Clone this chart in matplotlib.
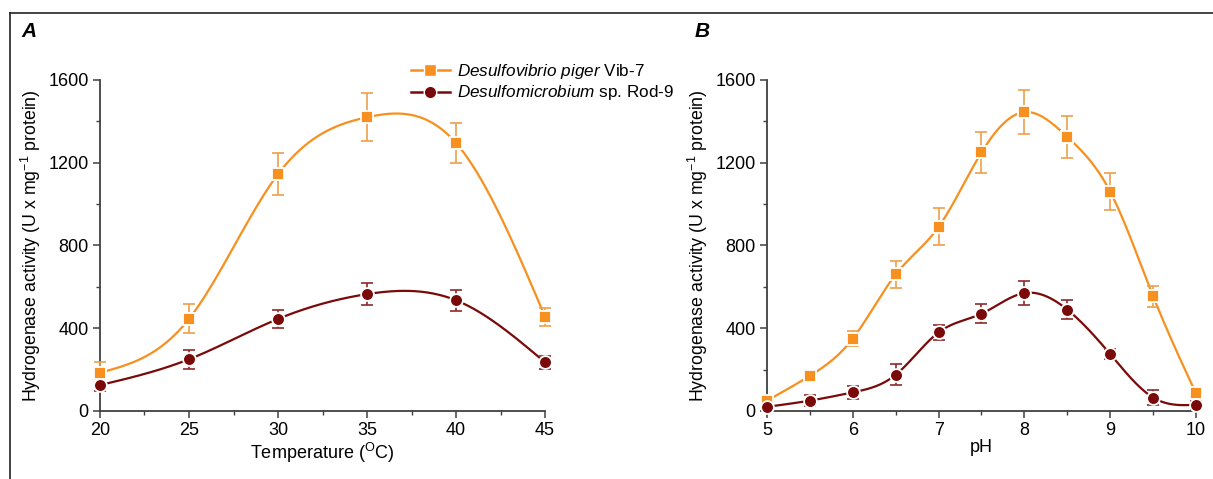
import numpy as np
import matplotlib
matplotlib.use("Agg")
import matplotlib.pyplot as plt
from matplotlib.lines import Line2D
from matplotlib.ticker import MultipleLocator

plt.rcParams['font.family'] = ['Liberation Sans', 'DejaVu Sans']
plt.rcParams['mathtext.fontset'] = 'custom'
plt.rcParams['mathtext.rm'] = 'Liberation Sans'
plt.rcParams['mathtext.it'] = 'Liberation Sans:italic'
plt.rcParams['mathtext.bf'] = 'Liberation Sans:bold'

# panel A: temperature
temp = [20, 25, 30, 35, 40, 45]
vib_t = [185, 445, 1145, 1420, 1295, 455]
vib_t_err = [50, 70, 100, 115, 95, 45]
rod_t = [125, 250, 445, 565, 535, 235]
rod_t_err = [30, 45, 45, 55, 50, 30]

# panel B: pH
ph = [5, 5.5, 6, 6.5, 7, 7.5, 8, 8.5, 9, 9.5, 10]
vib_p = [50, 170, 350, 660, 890, 1250, 1445, 1325, 1060, 555, 85]
vib_p_err = [15, 25, 35, 65, 90, 100, 105, 100, 90, 50, 25]
rod_p = [20, 50, 90, 175, 380, 470, 570, 490, 275, 65, 30]
rod_p_err = [15, 25, 30, 50, 35, 45, 60, 45, 25, 35, 20]

orange = '#F7901E'
orange_bar = '#EDA04A'
red = '#7A0A0A'
red_bar = '#8E2A2A'
spine_col = '#404040'


def natural_spline(x, y, n=300):
    # plain natural cubic spline, only used to draw the smooth line
    x = np.asarray(x, float)
    y = np.asarray(y, float)
    k = len(x)
    h = np.diff(x)
    A = np.zeros((k, k))
    b = np.zeros(k)
    A[0, 0] = 1
    A[-1, -1] = 1
    for i in range(1, k - 1):
        A[i, i - 1] = h[i - 1]
        A[i, i] = 2 * (h[i - 1] + h[i])
        A[i, i + 1] = h[i]
        b[i] = 3 * ((y[i + 1] - y[i]) / h[i] - (y[i] - y[i - 1]) / h[i - 1])
    c = np.linalg.solve(A, b)
    xs = np.linspace(x[0], x[-1], n)
    ys = np.empty_like(xs)
    for j, xv in enumerate(xs):
        i = min(np.searchsorted(x, xv, side='right') - 1, k - 2)
        bi = (y[i + 1] - y[i]) / h[i] - h[i] * (2 * c[i] + c[i + 1]) / 3
        di = (c[i + 1] - c[i]) / (3 * h[i])
        t = xv - x[i]
        ys[j] = y[i] + bi * t + c[i] * t ** 2 + di * t ** 3
    return xs, ys


def draw_series(ax, x, y, err, col, bcol, marker, ms):
    xs, ys = natural_spline(x, y)
    ax.plot(xs, ys, color=col, lw=1.6, zorder=2, clip_on=False)
    ax.errorbar(x, y, yerr=err, fmt='none', ecolor=bcol, elinewidth=1.2,
                capsize=4, capthick=1.2, zorder=3, clip_on=False)
    ax.plot(x, y, ls='none', marker=marker, ms=ms, color=col,
            mec='white', mew=1.3, zorder=4, clip_on=False)


def style_axis(ax, xmaj, xmin):
    for s in ['top', 'right']:
        ax.spines[s].set_visible(False)
    for s in ['left', 'bottom']:
        ax.spines[s].set_color(spine_col)
        ax.spines[s].set_linewidth(1.3)
    ax.set_ylim(0, 1600)
    ax.yaxis.set_major_locator(MultipleLocator(400))
    ax.yaxis.set_minor_locator(MultipleLocator(200))
    ax.xaxis.set_major_locator(MultipleLocator(xmaj))
    ax.xaxis.set_minor_locator(MultipleLocator(xmin))
    ax.tick_params(which='major', direction='out', length=5, width=1.1,
                   color=spine_col, labelsize=13, pad=3)
    ax.tick_params(which='minor', direction='out', length=3, width=1.0,
                   color=spine_col)
    ax.set_ylabel('Hydrogenase activity (U x mg$^{-1}$ protein)', fontsize=12.8,
                  labelpad=4)


fig = plt.figure(figsize=(12.13, 4.79), dpi=100)
axA = fig.add_axes([0.0824, 0.142, 0.367, 0.691])
axB = fig.add_axes([0.6323, 0.142, 0.3537, 0.691])

draw_series(axA, temp, vib_t, vib_t_err, orange, orange_bar, 's', 8)
draw_series(axA, temp, rod_t, rod_t_err, red, red_bar, 'o', 9.2)
axA.set_xlim(20, 45)
style_axis(axA, 5, 2.5)
axA.set_xlabel('Temperature ($^{\\mathrm{O}}$C)', fontsize=13, labelpad=1)

draw_series(axB, ph, vib_p, vib_p_err, orange, orange_bar, 's', 8)
draw_series(axB, ph, rod_p, rod_p_err, red, red_bar, 'o', 9.2)
axB.set_xlim(5, 10)
style_axis(axB, 1, 0.5)
axB.set_xlabel('pH', fontsize=13, labelpad=0)

fig.text(0.018, 0.935, 'A', fontsize=15, fontweight='bold', fontstyle='italic',
         va='center')
fig.text(0.573, 0.935, 'B', fontsize=15, fontweight='bold', fontstyle='italic',
         va='center')

handles = [
    Line2D([], [], color=orange, lw=1.8, marker='s', ms=8, mec='white', mew=1.0),
    Line2D([], [], color=red, lw=1.8, marker='o', ms=9, mec='white', mew=1.0),
]
labels = ['$\\it{Desulfovibrio\\ piger}$ Vib-7', '$\\it{Desulfomicrobium}$ sp. Rod-9']
fig.legend(handles, labels, loc='upper left', bbox_to_anchor=(0.333, 0.885),
           frameon=False, fontsize=12.3, handlelength=2.3, handletextpad=0.4,
           labelspacing=0.15, borderaxespad=0)

# partial frame around the figure (top and left edges visible)
fig.add_artist(Line2D([0.008, 1.0], [0.973, 0.973], color='#222222', lw=1.2,
                      transform=fig.transFigure))
fig.add_artist(Line2D([0.008, 0.008], [0.0, 0.973], color='#222222', lw=1.2,
                      transform=fig.transFigure))

fig.savefig('out.png', dpi=100)
